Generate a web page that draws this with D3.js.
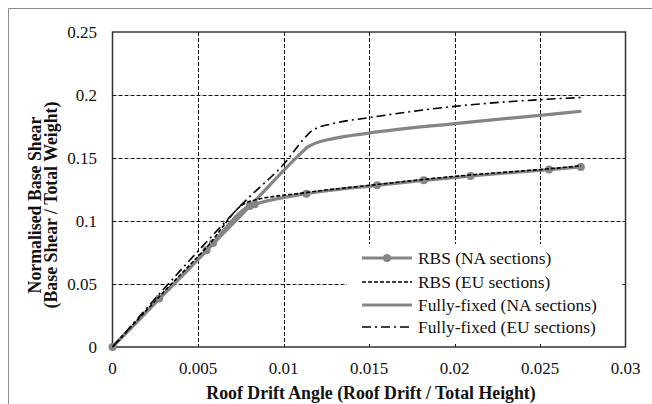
<!DOCTYPE html>
<html><head><meta charset="utf-8">
<script src="https://cdn.jsdelivr.net/npm/d3@7"></script>
<style>body{margin:0;background:#fff;}svg{display:block;}text{font-family:"Liberation Serif","Times New Roman",Times,"DejaVu Serif",serif;}</style>
</head><body>
<svg id="c" width="652" height="404"></svg>
<script>
const xTicks = [0, 0.005, 0.01, 0.015, 0.02, 0.025, 0.03];
const xTickLabels = ["0", "0.005", "0.01", "0.015", "0.02", "0.025", "0.03"];
const yTicks = [0, 0.05, 0.1, 0.15, 0.2, 0.25];
const yTickLabels = ["0", "0.05", "0.1", "0.15", "0.2", "0.25"];

const seriesNames = ["RBS (NA sections)", "RBS (EU sections)", "Fully-fixed (NA sections)", "Fully-fixed (EU sections)"];

const rbsNA_x = [0, 0.00273, 0.0055, 0.00588, 0.00803, 0.00832, 0.01134, 0.01547, 0.0182, 0.02094, 0.02553, 0.02739];
const rbsNA_y = [0, 0.0384, 0.0767, 0.0825, 0.112, 0.1133, 0.1217, 0.1283, 0.1323, 0.1357, 0.1408, 0.1429];

const rbsEU_x = [0, 0.0027, 0.0055, 0.0079, 0.0113, 0.0155, 0.0182, 0.0209, 0.0256, 0.0274];
const rbsEU_y = [0, 0.0395, 0.0790, 0.1150, 0.1225, 0.1290, 0.1330, 0.1365, 0.1415, 0.1438];

const ffNA_x = [0, 0.0080, 0.0110, 0.01144, 0.0118, 0.0129, 0.015, 0.02, 0.025, 0.02742];
const ffNA_y = [0, 0.1113, 0.1535, 0.1590, 0.1614, 0.1654, 0.1698, 0.1773, 0.1839, 0.1871];

const ffEU_x = [0, 0.005, 0.0078, 0.0102, 0.0112, 0.0117, 0.0129, 0.015, 0.02, 0.025, 0.0274];
const ffEU_y = [0, 0.0760, 0.1164, 0.1480, 0.1654, 0.1720, 0.1773, 0.1820, 0.1910, 0.1963, 0.1980];

const FONT = "'Liberation Serif', 'Times New Roman', Times, 'DejaVu Serif', serif";
const svg = d3.select("#c").attr("font-family", FONT);
const L = 112.5, R = 625.5, T = 32, B = 347;
const x = d3.scaleLinear().domain([0, 0.03]).range([L, R]);
const y = d3.scaleLinear().domain([0, 0.25]).range([B, T]);

// outer border
svg.append("path").attr("d", "M8.5,404 V8.5 H652").attr("fill", "none").attr("stroke", "#8c8c8c").attr("stroke-width", 1);

// grid
const g = svg.append("g");
g.selectAll(".vg").data(xTicks.slice(1, -1)).enter().append("line")
  .attr("x1", d => Math.round(x(d)) + 0.5).attr("x2", d => Math.round(x(d)) + 0.5)
  .attr("y1", T).attr("y2", B)
  .attr("stroke", "#111").attr("stroke-width", 1).attr("stroke-dasharray", "4,2");
g.selectAll(".hg").data(yTicks.slice(1, -1)).enter().append("line")
  .attr("y1", d => Math.round(y(d)) + 0.5).attr("y2", d => Math.round(y(d)) + 0.5)
  .attr("x1", L).attr("x2", R)
  .attr("stroke", "#111").attr("stroke-width", 1).attr("stroke-dasharray", "4,2");

// legend background (hides grid)
const lg = svg.append("g");
lg.append("rect").attr("x", 347).attr("y", 244).attr("width", 274).attr("height", 98).attr("fill", "#fff");

// frame
svg.append("rect").attr("x", L).attr("y", T).attr("width", R - L).attr("height", B - T)
  .attr("fill", "none").attr("stroke", "#333").attr("stroke-width", 1.5);

// tick labels
svg.append("g").selectAll("text").data(xTicks).enter().append("text")
  .attr("x", d => x(d)).attr("y", 374).attr("text-anchor", "middle").attr("font-family", FONT)
  .attr("font-size", 17).attr("fill", "#111").text((d, i) => xTickLabels[i]);
svg.append("g").selectAll("text").data(yTicks).enter().append("text")
  .attr("x", 97).attr("y", d => y(d) + 5.5).attr("text-anchor", "end").attr("font-family", FONT)
  .attr("font-size", 17).attr("fill", "#111").text((d, i) => yTickLabels[i]);

// axis titles
svg.append("text").attr("x", 371).attr("y", 399).attr("text-anchor", "middle").attr("font-family", FONT)
  .attr("font-size", 17.8).attr("font-weight", "bold").attr("fill", "#111")
  .text("Roof Drift Angle (Roof Drift / Total Height)");
const yt = svg.append("text").attr("transform", "translate(0,205) rotate(-90)").attr("font-family", FONT)
  .attr("text-anchor", "middle").attr("font-size", 17.8).attr("font-weight", "bold").attr("fill", "#111");
yt.append("tspan").attr("x", 0).attr("y", 41).text("Normalised Base Shear");
yt.append("tspan").attr("x", 0).attr("y", 57).text("(Base Shear / Total Weight)");

// lines
const line = d3.line().x(d => x(d[0])).y(d => y(d[1])).curve(d3.curveMonotoneX);
const zip = (a, b) => a.map((v, i) => [v, b[i]]);
const grey = "#858585";

svg.append("path").datum(zip(ffNA_x, ffNA_y)).attr("d", line)
  .attr("fill", "none").attr("stroke", grey).attr("stroke-width", 3.2);
svg.append("path").datum(zip(rbsNA_x, rbsNA_y)).attr("d", line)
  .attr("fill", "none").attr("stroke", grey).attr("stroke-width", 3.2);
svg.append("g").selectAll("circle").data(zip(rbsNA_x, rbsNA_y)).enter().append("circle")
  .attr("cx", d => x(d[0])).attr("cy", d => y(d[1])).attr("r", 4).attr("fill", grey);
svg.append("path").datum(zip(rbsEU_x, rbsEU_y)).attr("d", line)
  .attr("fill", "none").attr("stroke", "#000").attr("stroke-width", 1.6).attr("stroke-dasharray", "4,2");
svg.append("path").datum(zip(ffEU_x, ffEU_y)).attr("d", line)
  .attr("fill", "none").attr("stroke", "#000").attr("stroke-width", 1.6).attr("stroke-dasharray", "9,4,2,4");

// legend entries
const rows = [258, 282, 305, 327];
const styles = [
  {c: grey, w: 3.2, dash: null, m: true},
  {c: "#000", w: 1.6, dash: "4,2", m: false},
  {c: grey, w: 3.2, dash: null, m: false},
  {c: "#000", w: 1.6, dash: "9,4,2,4", m: false}
];
seriesNames.forEach((name, i) => {
  const s = styles[i];
  const ln = lg.append("line").attr("x1", 362).attr("x2", 412).attr("y1", rows[i]).attr("y2", rows[i])
    .attr("stroke", s.c).attr("stroke-width", s.w);
  if (s.dash) ln.attr("stroke-dasharray", s.dash);
  if (s.m) lg.append("circle").attr("cx", 387).attr("cy", rows[i]).attr("r", 4).attr("fill", s.c);
  lg.append("text").attr("x", 418).attr("y", rows[i] + 6).attr("font-family", FONT)
    .attr("font-size", 17.4).attr("fill", "#111").text(name);
});
</script>
</body></html>
